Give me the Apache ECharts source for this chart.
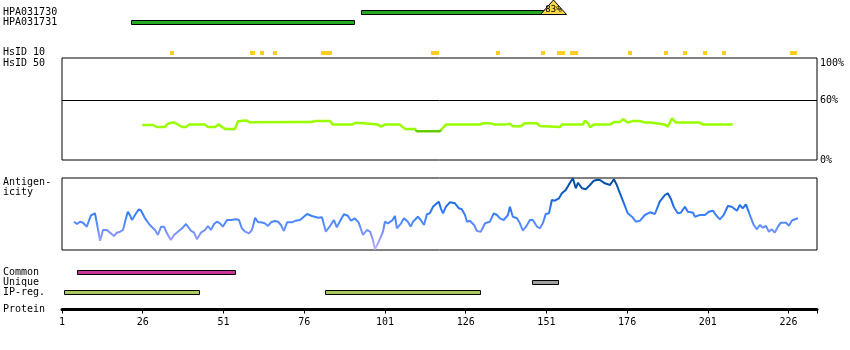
<!DOCTYPE html>
<html><head><meta charset="utf-8">
<script src="https://cdn.jsdelivr.net/npm/echarts@6/dist/echarts.min.js"></script>
<style>html,body{margin:0;padding:0;background:#fff}#c{width:850px;height:350px}</style>
</head><body><div id="c"></div>
<script>
// ---------------- data ----------------
const axisMin = 1, axisMax = 234.8;
const proteinTickLabels = [1, 26, 51, 76, 101, 126, 151, 176, 201, 226];
const proteinTickMarks = [1, 26, 51, 76, 101, 126, 151, 176, 201, 226, 234.8];

const antibodyNames = ['HPA031730', 'HPA031731'];
const antibodyStart = [94, 23];
const antibodyEnd = [153, 91];
const antibodyScoreName = ['HPA031730'];
const antibodyScorePos = [153];
const antibodyScoreText = ['83%'];

const hsid10Name = ['HsID 10'];
const hsid10Start = [35, 60, 63, 67, 82, 116, 136, 150, 155, 159, 177, 188, 194, 200, 206, 227];
const hsid10End   = [35, 60, 63, 67, 84, 117, 136, 150, 156, 160, 177, 188, 194, 200, 206, 228];

const hsid50Pos = [25.8,29.2,30.4,32.9,33.8,35.7,36.9,38.2,39.4,40.3,45.3,46.2,48.4,49.6,50.5,51.5,54.6,55.5,58.0,59.2,74.7,78.1,78.7,79.6,84.0,84.9,90.8,91.7,93.3,93.9,98.8,99.8,101.0,105.6,107.2,110.3,110.9,118.0,118.6,119.9,130.4,131.3,133.5,135.1,138.2,138.8,139.7,140.6,143.1,144.3,148.1,149.0,152.1,155.2,155.8,162.3,162.9,163.9,164.5,165.7,170.7,171.9,173.8,174.7,176.2,177.8,180.0,181.5,183.1,183.7,187.7,188.6,189.9,191.1,198.5,199.5,208.7];
const hsid50Val = [35,35,33,33,36.4,37.7,35.5,33,33,35.4,35.4,33,33,35.7,33,31.1,31.1,38.7,39.6,37.7,38,38,36.6,39,39,35.4,35.4,37,37,35.4,35.4,33.4,35.4,35.4,31.1,31.1,28.8,28.8,27.2,35.4,35.4,36.7,36.7,35.4,35.4,36.4,36.4,33.7,33.7,36.7,36.7,34,33.5,33,35.4,35.4,39.2,37,32.8,35.4,35.4,38,38,41,37.4,39,39,37.4,37.4,35.4,35.4,33.4,41.6,37.4,37.4,35.4,35.4];
const hsid50Ticks = [0, 60, 100];

const antigenPos = [4.7,5.6,6.6,7.5,8.7,9.4,10.0,11.2,11.8,12.8,13.7,14.9,15.9,17.1,18.0,19.0,19.9,20.8,21.4,22.1,22.7,23.6,24.8,25.5,26.7,28.2,29.8,30.7,31.7,32.6,33.5,34.7,35.7,36.9,38.2,39.4,40.0,40.9,41.9,42.8,44.0,45.3,46.2,47.1,48.1,49.0,49.9,50.8,52.1,53.3,54.9,55.8,56.7,57.7,58.9,59.8,60.8,61.7,62.6,63.8,64.8,65.7,66.9,67.9,68.8,69.7,70.7,72.2,73.4,74.7,76.9,78.4,80.3,81.5,82.7,84.0,85.2,86.1,87.4,88.3,89.5,90.5,91.7,92.9,94.2,95.4,96.4,97.3,97.9,99.1,100.4,101.0,101.9,103.2,104.1,104.7,106.0,106.9,108.1,109.0,109.7,111.2,112.1,113.1,114.0,114.9,115.9,116.8,117.7,118.3,119.0,119.9,121.1,122.7,123.9,124.8,125.8,126.4,127.3,128.6,129.5,130.7,132.0,133.5,134.7,135.7,136.6,137.8,139.1,139.7,140.6,141.9,142.8,143.7,144.7,145.9,146.8,148.1,149.0,149.9,150.8,151.8,152.7,153.6,154.9,155.8,157.0,158.3,159.2,160.1,160.8,162.0,163.2,164.5,165.7,166.6,167.6,169.1,170.7,171.9,172.8,173.8,175.0,176.2,177.5,178.7,180.0,181.5,183.1,184.6,185.2,186.1,187.7,188.6,189.6,190.5,191.7,192.6,193.9,194.8,196.4,197.0,198.5,200.1,201.3,202.6,203.5,204.7,205.9,207.2,208.4,210.0,210.9,211.8,212.8,214.0,215.2,216.2,217.1,218.0,219.0,219.9,220.8,221.7,222.7,223.6,225.2,226.1,227.0,228.2,228.9];
const antigenVal = [28.3,26,28.3,27.3,23.3,30,34.7,36.7,26.7,9.3,20,20,17.3,14,17.3,18.3,20,31.7,38.3,34.3,30,35,40.7,39.3,31.7,25,20,15,23.3,23.3,16.7,10,15,18.3,21.7,26,26.7,19.3,17.3,10.7,17.3,20,24,20,26,28.3,26.7,23.3,30,30,30.7,30,21.7,18.3,16.7,20,32.3,27.7,27.7,26.7,24,27.7,29,28.3,25,19,27.7,27.7,29.3,30,36,34,32.3,32.7,18.3,24,30,22.7,30.7,35.7,34.3,29.3,31.7,27.3,15,20,18.3,10,0.7,8.3,18.3,28.3,26.7,29.3,34,21.7,26.7,31.7,28.3,23.3,28.3,33.3,30,25,35.7,36.7,43.3,46,48.3,41.7,36.7,43.3,47.7,46.7,41.7,40.7,35,28.3,29.3,25,19,18.3,26.7,28.3,36.7,35,31.7,30,35,43.3,33.3,31.7,26.7,19.3,23.3,30,30,23.3,21.7,26.7,36,36.7,50,49.3,51.7,56.7,60,67.3,71.7,61.7,67.3,61.7,60.7,65,69.3,70,70,66.7,65,70.7,65,56.7,46.7,36.7,33.3,28.3,29.3,35,37.7,36,36.7,48.3,55,56.7,50.7,42.7,36.7,37.3,43.3,38.3,37.3,33.3,35,35,38.3,39.3,35,30.7,35,44,43.3,39.3,45,41.7,45.7,35,25,20.7,25,22.3,24,18.3,20.7,17.3,23.3,27.3,27.3,24.3,29.3,31,31.7];

const featureNames = ['Common', 'Unique', 'IP-reg.'];
const featureRow   = ['Common', 'Unique', 'IP-reg.', 'IP-reg.'];
const featureStart = [6, 147, 2, 83];
const featureEnd   = [54, 154, 43, 130];

// ---------------- styles ----------------
const FONT = '"DejaVu Sans Mono", monospace';
const featureColors = { 'Common': '#cc3399', 'Unique': '#a0a0a0', 'IP-reg.': '#a8c860' };
const L = 62, R = 33;

function zip(a, b) { return a.map((v, i) => [v, b[i]]); }

function rangeItem(getFill, h, stroke) {
  return function (params, api) {
    const cat = api.value(2);
    const a = api.coord([api.value(0) - 0.5, cat]);
    const b = api.coord([api.value(1) + 0.5, cat]);
    const cy = a[1];
    const fill = getFill(params.dataIndex);
    if (stroke) {
      const x0 = Math.round(a[0]), x1 = Math.round(b[0]);
      return { type: 'rect', shape: { x: x0 + 0.5, y: Math.floor(cy - h / 2) + 0.5, width: x1 - x0, height: h },
               style: { fill: fill, stroke: '#000', lineWidth: 1 } };
    }
    const x0 = Math.floor(a[0]), x1 = Math.ceil(b[0]);
    return { type: 'rect', shape: { x: x0, y: Math.round(cy - h / 2), width: Math.max(1, x1 - x0), height: h },
             style: { fill: fill } };
  };
}

const xAxes = [0,1,2,3,4,5].map(i => ({
  type: 'value', gridIndex: i, min: axisMin, max: axisMax, show: i === 5,
  splitLine: { show: false },
  axisLine: { show: i === 5, onZero: false, lineStyle: { color: '#000', width: 3 } },
  axisTick: { show: i === 5, length: 4, lineStyle: { color: '#000', width: 1 }, customValues: proteinTickMarks },
  axisLabel: { show: i === 5, customValues: proteinTickLabels, color: '#000', fontFamily: FONT, fontSize: 10, margin: 8 }
}));

const catLabel = { show: true, interval: 0, align: 'left', margin: L - 3, color: '#000', fontFamily: FONT, fontSize: 10 };
const yAxes = [
  { type: 'category', gridIndex: 0, data: antibodyNames, inverse: true, axisLine: { show: false }, axisTick: { show: false }, axisLabel: catLabel },
  { type: 'category', gridIndex: 1, data: hsid10Name, axisLine: { show: false }, axisTick: { show: false }, axisLabel: catLabel },
  { type: 'value', gridIndex: 2, min: 0, max: 102, position: 'right', splitLine: { show: false },
    axisLine: { show: false }, axisTick: { show: false },
    axisLabel: { show: true, customValues: hsid50Ticks, margin: 3, color: '#000', fontFamily: FONT, fontSize: 10,
      formatter: v => v === 100 ? '{top|100%}' : v + '%',
      rich: { top: { padding: [6, 0, 0, 0], fontFamily: FONT, fontSize: 10, color: '#000' } } } },
  { type: 'value', gridIndex: 3, min: 0, max: 72, show: false, splitLine: { show: false } },
  { type: 'category', gridIndex: 4, data: featureNames, inverse: true, axisLine: { show: false }, axisTick: { show: false }, axisLabel: catLabel },
  { type: 'value', gridIndex: 5, min: 0, max: 1, show: false, splitLine: { show: false } }
];

const option = {
  animation: false,
  backgroundColor: '#fff',
  grid: [
    { left: L, right: R, top: 7.5, height: 20 },
    { left: L, right: R, top: 47.5, height: 10 },
    { left: L, right: R, top: 58, height: 102, show: true, borderColor: '#000', borderWidth: 1, backgroundColor: 'transparent' },
    { left: L, right: R, top: 178, height: 72, show: true, borderColor: '#000', borderWidth: 1, backgroundColor: 'transparent' },
    { left: L, right: R, top: 267.5, height: 30 },
    { left: L, right: R, top: 300, height: 9.5 }
  ],
  xAxis: xAxes,
  yAxis: yAxes,
  visualMap: [
    { type: 'piecewise', show: false, seriesIndex: 3, dimension: 1,
      pieces: [{ gte: 0, lt: 30, color: '#66cc00' }, { gte: 30, lte: 102, color: '#99ff00' }] },
    { type: 'continuous', show: false, seriesIndex: 4, dimension: 1, min: 0, max: 72,
      inRange: { color: ['#c4b4ff', '#9098ff', '#5a8cff', '#3a80fa', '#1a6ae0', '#0a56b8', '#004b9c'] } }
  ],
  graphic: [
    { type: 'text', left: 3, top: 58, style: { text: 'HsID 50', font: '10px ' + FONT, fill: '#000' } },
    { type: 'text', left: 3, top: 177, style: { text: 'Antigen-\nicity', font: '10px ' + FONT, fill: '#000', lineHeight: 10 } },
    { type: 'text', left: 3, top: 304, style: { text: 'Protein', font: '10px ' + FONT, fill: '#000' } }
  ],
  series: [
    { // 0 antibody bars
      type: 'custom', xAxisIndex: 0, yAxisIndex: 0, encode: { x: [0, 1], y: 2 },
      data: antibodyNames.map((n, i) => [antibodyStart[i], antibodyEnd[i], n]),
      renderItem: rangeItem(() => '#22aa22', 4, true)
    },
    { // 1 antibody score triangle
      type: 'custom', xAxisIndex: 0, yAxisIndex: 0, encode: { x: 0, y: 1 },
      data: antibodyScoreName.map((n, i) => [antibodyScorePos[i], n, antibodyScoreText[i]]),
      renderItem: function (params, api) {
        const p = api.coord([api.value(0), api.value(1)]);
        const x = Math.round(p[0]) + 0.5, cy = p[1];
        return { type: 'group', children: [
          { type: 'polygon', shape: { points: [[x, cy - 12.5], [x - 13, cy + 2], [x + 13, cy + 2]] },
            style: { fill: '#f7d64a', stroke: '#000', lineWidth: 1 } },
          { type: 'text', x: x, y: cy - 3, style: { text: antibodyScoreText[params.dataIndex], font: '9px ' + FONT, fill: '#000', align: 'center', verticalAlign: 'middle' } }
        ] };
      }
    },
    { // 2 HsID 10 marks
      type: 'custom', xAxisIndex: 1, yAxisIndex: 1, encode: { x: [0, 1], y: 2 },
      data: hsid10Start.map((s, i) => [s, hsid10End[i], hsid10Name[0]]),
      renderItem: rangeItem(() => '#ffcc22', 4, false)
    },
    { // 3 HsID 50 line
      type: 'line', xAxisIndex: 2, yAxisIndex: 2, data: zip(hsid50Pos, hsid50Val),
      symbol: 'none', lineStyle: { width: 2.5 }, color: '#99ff00',
      markLine: { silent: true, symbol: 'none', label: { show: false },
        lineStyle: { color: '#000', width: 1, type: 'solid' }, data: [{ yAxis: 60 }] }
    },
    { // 4 antigenicity
      type: 'line', xAxisIndex: 3, yAxisIndex: 3, data: zip(antigenPos, antigenVal),
      symbol: 'none', lineStyle: { width: 2 }
    },
    { // 5 features
      type: 'custom', xAxisIndex: 4, yAxisIndex: 4, encode: { x: [0, 1], y: 2 },
      data: featureRow.map((r, i) => [featureStart[i], featureEnd[i], r]),
      renderItem: rangeItem(i => featureColors[featureRow[i]], 4, true)
    }
  ]
};

echarts.init(document.getElementById('c'), null, { renderer: 'canvas' }).setOption(option);
</script></body></html>
